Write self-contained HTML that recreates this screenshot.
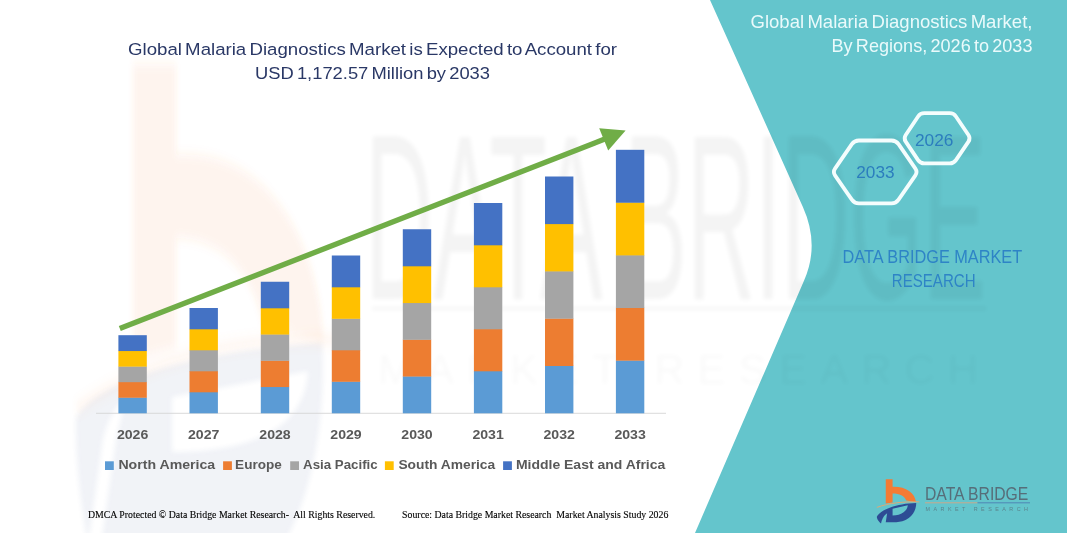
<!DOCTYPE html>
<html><head><meta charset="utf-8"><title>Global Malaria Diagnostics Market</title>
<style>
html,body{margin:0;padding:0;background:#fff;}
body{width:1067px;height:533px;overflow:hidden;font-family:"Liberation Sans",sans-serif;}
svg{display:block;}
text{font-family:"Liberation Sans",sans-serif;}
.serif{font-family:"Liberation Serif",serif;}
</style></head><body>
<svg width="1067" height="533" viewBox="0 0 1067 533">
<defs><filter id="bl" x="-5%" y="-5%" width="110%" height="110%"><feGaussianBlur stdDeviation="2.2"/></filter><filter id="bl3" x="-20%" y="-20%" width="140%" height="140%"><feGaussianBlur stdDeviation="2.5"/></filter><filter id="bl2" x="-20%" y="-20%" width="140%" height="140%"><feGaussianBlur stdDeviation="4"/></filter></defs>
<rect width="1067" height="533" fill="#ffffff"/>

<!-- faint watermark logo on the left -->
<g transform="matrix(0.665,0,0,1.29,33.2,-26.3)" filter="url(#bl2)">
<path d="M150,70 L215,70 L215,140 C335,135 428,195 437,285 L345,272 C330,230 280,205 215,205 L215,290 L150,300 Z" fill="#F47B34" opacity="0.085"/>
<path d="M65,337 C180,295 320,280 470,284" fill="none" stroke="#F2A468" stroke-width="8" opacity="0.10"/>
</g>
<path filter="url(#bl3)" fill-rule="evenodd" d="M76,418 C95,385 180,352 322,343 C326,410 315,490 283,545 L101,545 L116,440 L126,398 C112,408 104,430 102,445 L88,545 C80,500 75,450 76,418 Z M172,397 L308,371 C306,410 280,452 172,452 Z" fill="#2E4A8C" opacity="0.065"/>

<!-- teal panel -->
<path d="M710,0 L802.9,207 Q819.7,244.4 804.3,280 L695,533 L1067,533 L1067,0 Z" fill="#64C5CC"/>

<!-- big faint watermark text -->
<g opacity="0.042" fill="#000" filter="url(#bl)">
<text x="365" y="299" font-size="236" textLength="621" lengthAdjust="spacingAndGlyphs">DATA BRIDGE</text>
<rect x="372" y="307" width="614" height="3"/>
<text x="378" y="384" font-size="42" textLength="600" lengthAdjust="spacing" opacity="0.5">MARKET RESEARCH</text>
</g>

<!-- axis -->
<rect x="96" y="412.8" width="570" height="0.9" fill="#D4D4D4"/>

<!-- bars -->
<rect x="118.40" y="397.44" width="28.4" height="15.86" fill="#5B9BD5"/>
<rect x="118.40" y="381.88" width="28.4" height="15.86" fill="#ED7D31"/>
<rect x="118.40" y="366.32" width="28.4" height="15.86" fill="#A5A5A5"/>
<rect x="118.40" y="350.76" width="28.4" height="15.86" fill="#FFC000"/>
<rect x="118.40" y="335.20" width="28.4" height="15.86" fill="#4472C4"/>
<rect x="189.50" y="392.00" width="28.4" height="21.30" fill="#5B9BD5"/>
<rect x="189.50" y="371.00" width="28.4" height="21.30" fill="#ED7D31"/>
<rect x="189.50" y="350.00" width="28.4" height="21.30" fill="#A5A5A5"/>
<rect x="189.50" y="329.00" width="28.4" height="21.30" fill="#FFC000"/>
<rect x="189.50" y="308.00" width="28.4" height="21.30" fill="#4472C4"/>
<rect x="260.80" y="386.75" width="28.4" height="26.55" fill="#5B9BD5"/>
<rect x="260.80" y="360.50" width="28.4" height="26.55" fill="#ED7D31"/>
<rect x="260.80" y="334.25" width="28.4" height="26.55" fill="#A5A5A5"/>
<rect x="260.80" y="308.00" width="28.4" height="26.55" fill="#FFC000"/>
<rect x="260.80" y="281.75" width="28.4" height="26.55" fill="#4472C4"/>
<rect x="331.80" y="381.50" width="28.4" height="31.80" fill="#5B9BD5"/>
<rect x="331.80" y="350.00" width="28.4" height="31.80" fill="#ED7D31"/>
<rect x="331.80" y="318.50" width="28.4" height="31.80" fill="#A5A5A5"/>
<rect x="331.80" y="287.00" width="28.4" height="31.80" fill="#FFC000"/>
<rect x="331.80" y="255.50" width="28.4" height="31.80" fill="#4472C4"/>
<rect x="402.80" y="376.25" width="28.4" height="37.05" fill="#5B9BD5"/>
<rect x="402.80" y="339.50" width="28.4" height="37.05" fill="#ED7D31"/>
<rect x="402.80" y="302.75" width="28.4" height="37.05" fill="#A5A5A5"/>
<rect x="402.80" y="266.00" width="28.4" height="37.05" fill="#FFC000"/>
<rect x="402.80" y="229.25" width="28.4" height="37.05" fill="#4472C4"/>
<rect x="473.90" y="371.00" width="28.4" height="42.30" fill="#5B9BD5"/>
<rect x="473.90" y="329.00" width="28.4" height="42.30" fill="#ED7D31"/>
<rect x="473.90" y="287.00" width="28.4" height="42.30" fill="#A5A5A5"/>
<rect x="473.90" y="245.00" width="28.4" height="42.30" fill="#FFC000"/>
<rect x="473.90" y="203.00" width="28.4" height="42.30" fill="#4472C4"/>
<rect x="545.00" y="365.70" width="28.4" height="47.60" fill="#5B9BD5"/>
<rect x="545.00" y="318.40" width="28.4" height="47.60" fill="#ED7D31"/>
<rect x="545.00" y="271.10" width="28.4" height="47.60" fill="#A5A5A5"/>
<rect x="545.00" y="223.80" width="28.4" height="47.60" fill="#FFC000"/>
<rect x="545.00" y="176.50" width="28.4" height="47.60" fill="#4472C4"/>
<rect x="615.90" y="360.36" width="28.4" height="52.94" fill="#5B9BD5"/>
<rect x="615.90" y="307.72" width="28.4" height="52.94" fill="#ED7D31"/>
<rect x="615.90" y="255.08" width="28.4" height="52.94" fill="#A5A5A5"/>
<rect x="615.90" y="202.44" width="28.4" height="52.94" fill="#FFC000"/>
<rect x="615.90" y="149.80" width="28.4" height="52.94" fill="#4472C4"/>

<!-- arrow -->
<line x1="119.8" y1="328.6" x2="606" y2="138.6" stroke="#70AD47" stroke-width="5.4"/>
<path d="M625.6,130.6 L599.2,128.2 L608.2,150.6 Z" fill="#70AD47"/>

<!-- title -->
<g fill="#2A3866" font-size="17.2" style="word-spacing:-1.8px">
<text x="128" y="55.1" textLength="489" lengthAdjust="spacingAndGlyphs">Global Malaria Diagnostics Market is Expected to Account for</text>
<text x="255" y="79.1" textLength="235" lengthAdjust="spacingAndGlyphs">USD 1,172.57 Million by 2033</text>
</g>

<!-- year labels -->
<g fill="#595959" font-size="13.2" font-weight="bold">
<text x="132.6" y="438.5" text-anchor="middle" textLength="31.4" lengthAdjust="spacingAndGlyphs">2026</text>
<text x="203.7" y="438.5" text-anchor="middle" textLength="31.4" lengthAdjust="spacingAndGlyphs">2027</text>
<text x="275.0" y="438.5" text-anchor="middle" textLength="31.4" lengthAdjust="spacingAndGlyphs">2028</text>
<text x="346.0" y="438.5" text-anchor="middle" textLength="31.4" lengthAdjust="spacingAndGlyphs">2029</text>
<text x="417.0" y="438.5" text-anchor="middle" textLength="31.4" lengthAdjust="spacingAndGlyphs">2030</text>
<text x="488.1" y="438.5" text-anchor="middle" textLength="31.4" lengthAdjust="spacingAndGlyphs">2031</text>
<text x="559.2" y="438.5" text-anchor="middle" textLength="31.4" lengthAdjust="spacingAndGlyphs">2032</text>
<text x="630.1" y="438.5" text-anchor="middle" textLength="31.4" lengthAdjust="spacingAndGlyphs">2033</text>
</g>

<!-- legend -->
<g fill="#595959" font-size="13.2" font-weight="bold">
<rect x="105.0" y="461.3" width="8.8" height="8.7" fill="#5B9BD5"/>
<text x="118.4" y="468.8" textLength="96.8" lengthAdjust="spacingAndGlyphs">North America</text>
<rect x="223.1" y="461.3" width="8.8" height="8.7" fill="#ED7D31"/>
<text x="235.1" y="468.8" textLength="46.7" lengthAdjust="spacingAndGlyphs">Europe</text>
<rect x="290.2" y="461.3" width="8.8" height="8.7" fill="#A5A5A5"/>
<text x="303.1" y="468.8" textLength="74.6" lengthAdjust="spacingAndGlyphs">Asia Pacific</text>
<rect x="384.9" y="461.3" width="8.8" height="8.7" fill="#FFC000"/>
<text x="398.4" y="468.8" textLength="96.8" lengthAdjust="spacingAndGlyphs">South America</text>
<rect x="503.1" y="461.3" width="8.8" height="8.7" fill="#4472C4"/>
<text x="515.9" y="468.8" textLength="149.4" lengthAdjust="spacingAndGlyphs">Middle East and Africa</text>
</g>

<!-- footer -->
<g fill="#000" font-size="10" class="serif" stroke="#000" stroke-width="0.12">
<text class="serif" x="88" y="517.5" textLength="287.3" lengthAdjust="spacingAndGlyphs" style="white-space:pre">DMCA Protected © Data Bridge Market Research-  All Rights Reserved.</text>
<text class="serif" x="402.1" y="517.5" textLength="266.2" lengthAdjust="spacingAndGlyphs" style="white-space:pre">Source: Data Bridge Market Research  Market Analysis Study 2026</text>
</g>

<!-- right panel title -->
<g fill="#EAFAFB" font-size="17.8" style="word-spacing:-1.8px">
<text x="750.5" y="27.6" textLength="282" lengthAdjust="spacingAndGlyphs">Global Malaria Diagnostics Market,</text>
<text x="831.5" y="51.6" textLength="201" lengthAdjust="spacingAndGlyphs">By Regions, 2026 to 2033</text>
</g>

<!-- hexagons -->
<g fill="none" stroke="#F4FDFD" stroke-width="3.8" stroke-linejoin="round">
<path d="M835.17,175.70 Q832.60,172.00 835.16,168.30 L851.84,144.20 Q854.40,140.50 858.90,140.50 L891.50,140.50 Q896.00,140.50 898.56,144.20 L915.24,168.30 Q917.80,172.00 915.23,175.70 L898.57,199.70 Q896.00,203.40 891.50,203.40 L858.90,203.40 Q854.40,203.40 851.83,199.70 Z"/>
<path d="M905.72,141.62 Q903.50,138.30 905.72,134.98 L918.08,116.52 Q920.30,113.20 924.30,113.20 L949.70,113.20 Q953.70,113.20 955.94,116.51 L968.46,134.99 Q970.70,138.30 968.46,141.61 L955.94,160.09 Q953.70,163.40 949.70,163.40 L924.30,163.40 Q920.30,163.40 918.08,160.08 Z"/>
</g>
<g fill="#2B7DBE" font-size="17.2">
<text x="856.3" y="177.6" textLength="38.3" lengthAdjust="spacingAndGlyphs">2033</text>
<text x="914.9" y="146.1" textLength="38.5" lengthAdjust="spacingAndGlyphs">2026</text>
</g>

<!-- DATA BRIDGE MARKET RESEARCH -->
<g fill="#2E84C6" font-size="17.8">
<text x="842.6" y="263" textLength="179.6" lengthAdjust="spacingAndGlyphs">DATA BRIDGE MARKET</text>
<text x="891.8" y="287.4" textLength="83.8" lengthAdjust="spacingAndGlyphs">RESEARCH</text>
</g>

<!-- logo -->
<g transform="translate(870,472) scale(0.10507)">
<path d="M150,70 L215,70 L215,140 C335,135 428,195 437,285 L345,272 C330,230 280,205 215,205 L215,290 L150,300 Z" fill="#F47B34"/>
<path d="M65,337 C180,295 320,280 470,284" fill="none" stroke="#F2A468" stroke-width="8"/>
<path fill-rule="evenodd" d="M440,295 C440,380 380,470 250,478 L150,478 L163,392 C140,405 115,440 105,490 C80,470 65,445 65,425 C100,360 250,300 440,295 Z M215,350 L360,317 C352,375 300,412 215,415 Z" fill="#2D4C94"/>
</g>
<g fill="#55626E" opacity="0.88">
<text x="925" y="499.7" font-size="19" textLength="103.3" lengthAdjust="spacingAndGlyphs">DATA BRIDGE</text>
<text x="925.5" y="511.4" font-size="5.4" textLength="102.5" lengthAdjust="spacing" opacity="0.75">MARKET  RESEARCH</text>
</g>
<rect x="925" y="502.3" width="52.5" height="1" fill="#C9A98C"/>
<rect x="977.5" y="502.3" width="52.5" height="1" fill="#4F86B5"/>
</svg>
</body></html>
